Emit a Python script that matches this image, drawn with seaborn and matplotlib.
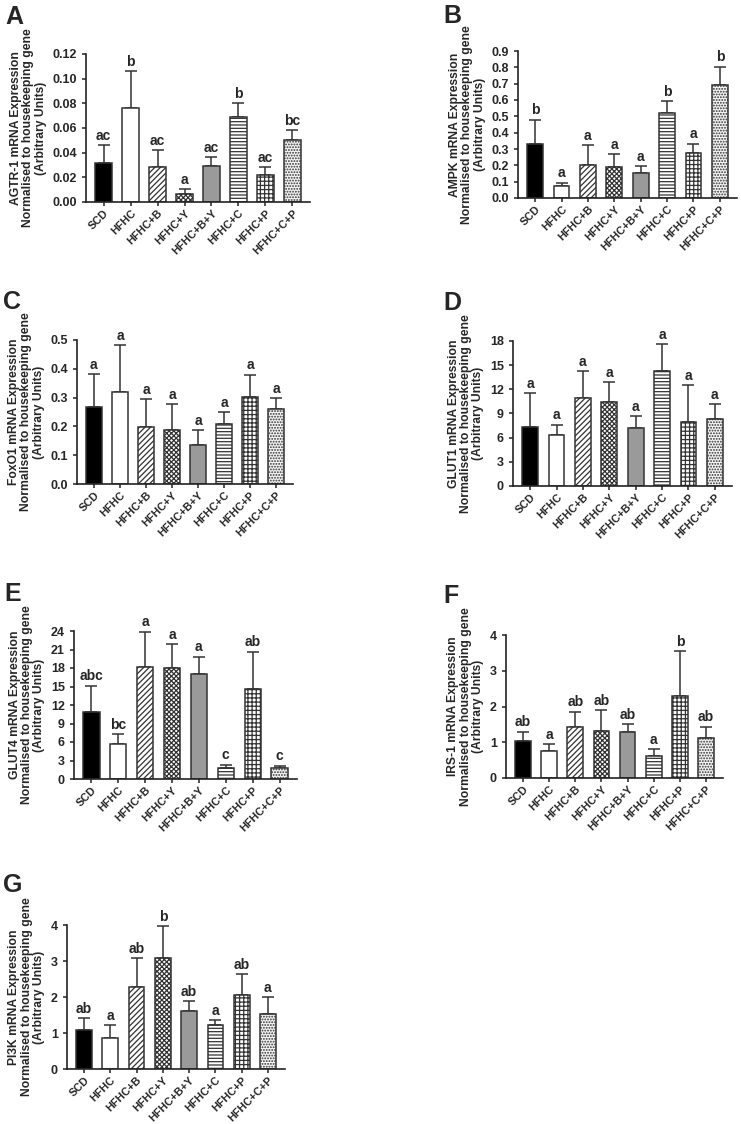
import numpy as np
import pandas as pd
import matplotlib
matplotlib.use("Agg")
import matplotlib.pyplot as plt
import seaborn as sns

sns.set_style("ticks")
plt.rcParams['font.family'] = ['Liberation Sans', 'DejaVu Sans']
plt.rcParams['font.weight'] = 'bold'
plt.rcParams['hatch.linewidth'] = 0.9

groups = ["SCD", "HFHC", "HFHC+B", "HFHC+Y", "HFHC+B+Y", "HFHC+C", "HFHC+P", "HFHC+C+P"]

# mean values and upper error bar ends
agtr1_mean = [0.0316, 0.076, 0.0283, 0.0065, 0.0294, 0.0693, 0.0218, 0.0504]
agtr1_top = [0.046, 0.106, 0.0423, 0.0102, 0.0364, 0.080, 0.028, 0.058]
agtr1_sig = ["ac", "b", "ac", "a", "ac", "b", "ac", "bc"]

ampk_mean = [0.331, 0.074, 0.204, 0.192, 0.153, 0.523, 0.274, 0.689]
ampk_top = [0.48, 0.094, 0.325, 0.27, 0.196, 0.593, 0.333, 0.804]
ampk_sig = ["b", "a", "a", "a", "a", "b", "a", "b"]

foxo1_mean = [0.267, 0.319, 0.197, 0.188, 0.135, 0.209, 0.301, 0.26]
foxo1_top = [0.381, 0.483, 0.294, 0.277, 0.187, 0.251, 0.38, 0.297]
foxo1_sig = ["a"] * 8

glut1_mean = [7.34, 6.3, 10.9, 10.37, 7.22, 14.27, 8.0, 8.34]
glut1_top = [11.58, 7.63, 14.23, 12.94, 8.71, 17.59, 12.49, 10.2]
glut1_sig = ["a"] * 8

glut4_mean = [10.92, 5.68, 18.1, 18.0, 16.97, 1.78, 14.6, 1.78]
glut4_top = [15.13, 7.24, 23.9, 21.9, 19.84, 2.32, 20.65, 2.16]
glut4_sig = ["abc", "bc", "a", "a", "a", "c", "ab", "c"]

irs1_mean = [1.03, 0.75, 1.42, 1.31, 1.28, 0.62, 2.30, 1.12]
irs1_top = [1.30, 0.94, 1.86, 1.91, 1.50, 0.82, 3.55, 1.44]
irs1_sig = ["ab", "a", "ab", "ab", "ab", "a", "b", "ab"]

pi3k_mean = [1.08, 0.86, 2.28, 3.08, 1.60, 1.22, 2.06, 1.54]
pi3k_top = [1.41, 1.21, 3.08, 3.96, 1.88, 1.35, 2.64, 1.99]
pi3k_sig = ["ab", "a", "ab", "b", "ab", "a", "ab", "a"]

bar_colors = ["black", "white", "white", "white", "#9a9a9a", "white", "white", "#f4f4f4"]
bar_hatches = [None, None, "//////", "xxxxxxx", None, "-----", "++++", "......"]

W, H = 741, 1124
fig = plt.figure(figsize=(W / 100, H / 100), dpi=100)

def box(x0, x1, y0, y1):
    return [x0 / W, 1 - y1 / H, (x1 - x0) / W, (y1 - y0) / H]

panels = [
    ("A", "AGTR-1", agtr1_mean, agtr1_top, agtr1_sig, box(86, 310, 54, 202), (0, 0.12), np.arange(0, 0.121, 0.02), "{:.2f}", (5, 24)),
    ("B", "AMPK", ampk_mean, ampk_top, ampk_sig, box(518, 737, 51, 198), (0, 0.9), np.arange(0, 0.91, 0.1), "{:.1f}", (443, 23)),
    ("C", "FoxO1", foxo1_mean, foxo1_top, foxo1_sig, box(77, 293, 340, 484), (0, 0.5), np.arange(0, 0.51, 0.1), "{:.1f}", (3, 309)),
    ("D", "GLUT1", glut1_mean, glut1_top, glut1_sig, box(513, 732, 341, 486), (0, 18), np.arange(0, 19, 3), "{:.0f}", (443, 310)),
    ("E", "GLUT4", glut4_mean, glut4_top, glut4_sig, box(74, 297, 631, 779), (0, 24), np.arange(0, 25, 3), "{:.0f}", (4, 601)),
    ("F", "IRS-1", irs1_mean, irs1_top, irs1_sig, box(506, 723, 635, 778), (0, 4), np.arange(0, 5, 1), "{:.0f}", (443, 603)),
    ("G", "PI3K", pi3k_mean, pi3k_top, pi3k_sig, box(67, 285, 925, 1069), (0, 4), np.arange(0, 5, 1), "{:.0f}", (3, 892)),
]

for letter, gene, means, tops, sig, rect, ylim, yticks, fmt, lpos in panels:
    ax = fig.add_axes(rect)
    df = pd.DataFrame({"group": groups, "value": means})
    sns.barplot(data=df, x="group", y="value", hue="group", palette=bar_colors,
                legend=False, width=0.6, edgecolor="#333333", linewidth=1.1, ax=ax,
                errorbar=None, zorder=2)
    for patch, h in zip(ax.patches, bar_hatches):
        if h:
            patch.set_hatch(h)
    x = np.arange(len(groups))
    upper = np.array(tops) - np.array(means)
    ax.errorbar(x, means, yerr=[np.zeros(len(x)), upper], fmt="none",
                ecolor="#333333", elinewidth=1.1, capsize=4, capthick=1.1, zorder=1)
    span = ylim[1] - ylim[0]
    for xi, t, s in zip(x, tops, sig):
        ax.text(xi, t + span * 0.015, s, ha="center", va="bottom",
                fontsize=10, fontweight="bold", clip_on=False)
    ax.set_ylim(*ylim)
    ax.set_xlim(-0.65, 7.65)
    ax.set_yticks(yticks)
    ax.set_yticklabels([fmt.format(v) for v in yticks], fontsize=9, fontweight="bold")
    ax.set_xticks(x)
    ax.set_xticklabels(groups, rotation=45, ha="right", rotation_mode="anchor",
                       fontsize=7.8, fontweight="bold")
    ax.set_xlabel("")
    ax.set_ylabel(f"{gene} mRNA Expression\nNormalised to housekeeping gene\n(Arbitrary Units)",
                  fontsize=8.7, fontweight="bold", labelpad=4, linespacing=1.05)
    ax.tick_params(axis="both", direction="out", length=3, width=1.1, color="#222222")
    ax.tick_params(axis="x", pad=1.5)
    for side in ["top", "right"]:
        ax.spines[side].set_visible(False)
    for side in ["left", "bottom"]:
        ax.spines[side].set_linewidth(1.2)
        ax.spines[side].set_color("#222222")
    fig.text(lpos[0] / W, 1 - lpos[1] / H, letter, fontsize=18, fontweight="bold",
             ha="left", va="baseline")

fig.savefig("out.png", dpi=100, facecolor="white")
